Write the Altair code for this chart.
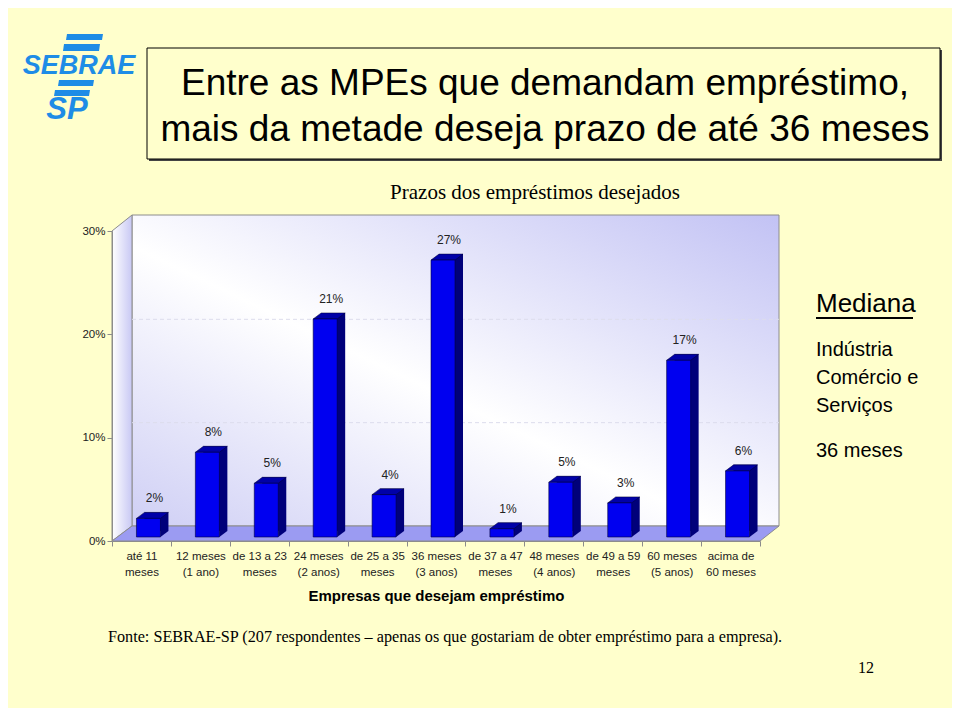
import altair as alt
import pandas as pd

# ---- data ----
categories = [
    "até 11|meses", "12 meses|(1 ano)", "de 13 a 23|meses", "24 meses|(2 anos)",
    "de 25 a 35|meses", "36 meses|(3 anos)", "de 37 a 47|meses", "48 meses|(4 anos)",
    "de 49 a 59|meses", "60 meses|(5 anos)", "acima de|60 meses",
]
values = [1.8, 8.2, 5.2, 21.1, 4.1, 26.8, 0.8, 5.3, 3.3, 17.1, 6.4]
y_ticks = [0, 10, 20, 30]
grid_values = [10, 20]

title_lines = ["Entre as MPEs que demandam empréstimo,", "mais da metade deseja prazo de até 36 meses"]
subtitle = "Prazos dos empréstimos desejados"
x_title = "Empresas que desejam empréstimo"
source = "Fonte: SEBRAE-SP (207 respondentes – apenas os que gostariam de obter empréstimo para a empresa)."
side_head = "Mediana"
side_lines = ["Indústria", "Comércio e", "Serviços"]
side_value = "36 meses"
page_no = "12"

df = pd.DataFrame({"cat": categories, "value": values})
df["label"] = [f"{round(v)}%" for v in values]
grid_df = pd.DataFrame({"g": grid_values})

# ---- layout ----
W, H = 648, 310
BG = "#FFFFCC"
FONT = "Liberation Sans"
SERIF = "Liberation Serif"
LOGO = "#1E8CE6"
one = alt.Data(values=[{}])

xs = alt.Scale(domain=categories, paddingInner=0, paddingOuter=0)
ys = alt.Scale(domain=[0, 30], nice=False)
X = alt.X("cat:N", sort=None, scale=xs, title=x_title,
          axis=alt.Axis(labelExpr="split(datum.label, '|')", labelAngle=0, tickBand="extent",
                        tickSize=5, labelPadding=4, labelLineHeight=16, labelFontSize=11.5,
                        titleFontSize=15, titleFontWeight="bold", titlePadding=11, zindex=1))
Y = alt.Y("value:Q", scale=ys, title=None,
          axis=alt.Axis(values=y_ticks, labelExpr="datum.value + '%'", tickSize=5, labelPadding=2,
                        grid=False, labelFontSize=11.5, zindex=1))

def poly(path, x, y, fill, stroke=None, sw=0):
    kw = dict(shape=path, size=4, filled=True, opacity=1, fill=fill, strokeWidth=sw)
    if stroke:
        kw["stroke"] = stroke
    return alt.Chart(one).mark_point(**kw).encode(x=alt.value(x), y=alt.value(y))

wall_grad = alt.Gradient(gradient="linear", x1=0, y1=1, x2=1, y2=0, stops=[
    alt.GradientStop(color="#CFCFF5", offset=0),
    alt.GradientStop(color="#FFFFFF", offset=0.45),
    alt.GradientStop(color="#C2C2F4", offset=1)])
side_grad = alt.Gradient(gradient="linear", x1=0, y1=0, x2=1, y2=0, stops=[
    alt.GradientStop(color="#FFFFFF", offset=0),
    alt.GradientStop(color="#C8C8F4", offset=1)])

back_wall = alt.Chart(one).mark_rect(fill=wall_grad, stroke="#8C8C8C", strokeWidth=1).encode(
    x=alt.value(20), x2=alt.value(667), y=alt.value(-16), y2=alt.value(295))
side_wall = poly("M0,0 L20,-16 L20,295 L0,310 Z", 0, 0, side_grad, "#8C8C8C", 1)
floor = poly("M0,0 L20,-15 L667,-15 L648,0 Z", 0, 310, "#9B9BF2", "#8C8C8C", 1)

grid = alt.Chart(grid_df).mark_rule(color="#DCDCEC", strokeDash=[4, 3], strokeWidth=1, yOffset=-15).encode(
    y=alt.Y("g:Q", scale=ys), x=alt.value(20), x2=alt.value(667))

base = alt.Chart(df)
bar_back = base.mark_bar(size=24, color="#00007A", xOffset=15, yOffset=-10, y2Offset=-10).encode(x=X, y=Y)
bar_top = base.mark_point(shape="M-5,-4 L19,-4 L27,-10 L3,-10 Z", size=4, filled=True, opacity=1,
                          fill="#0000A8", stroke="#000030", strokeWidth=0.5).encode(x=X, y=Y)
bar_foot = base.mark_point(shape="M19,-10 L19,-4 L27,-10 Z", size=4, filled=True, opacity=1,
                           fill="#00007A", strokeWidth=0).encode(x=X, y=alt.value(310))
bar_front = base.mark_bar(size=24, color="#0000F0", stroke="#000040", strokeWidth=0.6,
                          xOffset=7, yOffset=-4, y2Offset=-4).encode(x=X, y=Y)
bar_text = base.mark_text(font=FONT, fontSize=12, color="#222222", dx=13, dy=-24, baseline="middle").encode(
    x=X, y=Y, text="label:N")

def txt(text, x, y, size, font=FONT, align="center", baseline="middle", color="black", **kw):
    return alt.Chart(one).mark_text(text=text, font=font, fontSize=size, align=align, baseline=baseline,
                                    color=color, **kw).encode(x=alt.value(x), y=alt.value(y))

# title box
box_shadow = alt.Chart(one).mark_rect(fill="#444444").encode(
    x=alt.value(37), x2=alt.value(830), y=alt.value(-181), y2=alt.value(-70))
box = alt.Chart(one).mark_rect(fill=BG, stroke="black", strokeWidth=1).encode(
    x=alt.value(35), x2=alt.value(828), y=alt.value(-183), y2=alt.value(-72))
t1 = txt(title_lines[0], 433, -147, 37)
t2 = txt(title_lines[1], 433, -101, 37)
sub = txt(subtitle, 423, -38, 21, font=SERIF)

# logo
logo_bars = [
    poly("M2,0 L38,0 L37,6 L1,6 Z", -47, -197, LOGO),
    poly("M2,0 L38,0 L37,7 L1,7 Z", -50, -187, LOGO),
    poly("M2,0 L37,0 L36,6 L1,6 Z", -55, -151, LOGO),
    poly("M2,0 L37,0 L36,6 L1,6 Z", -59, -141, LOGO),
]
logo1 = txt("SEBRAE", -33, -165, 27, fontWeight="bold", fontStyle="italic", color=LOGO)
logo2 = txt("SP", -45, -121, 31, fontWeight="bold", fontStyle="italic", color=LOGO)

# side note
med = txt(side_head, 704, 81, 26, align="left", baseline="alphabetic")
med_line = alt.Chart(one).mark_rule(color="black", strokeWidth=2).encode(
    x=alt.value(704), x2=alt.value(801), y=alt.value(87))
sides = txt(side_lines, 704, 121, 20, align="left", lineHeight=28, baseline="top", dy=-12)
side_v = txt(side_value, 704, 220, 20, align="left")

src = txt(source, -4, 406, 16.2, font=SERIF, align="left")
pg = txt(page_no, 754, 437, 16, font=SERIF)

chart = alt.layer(
    box_shadow, box, t1, t2, sub, *logo_bars, logo1, logo2,
    back_wall, side_wall, floor, grid,
    bar_back, bar_top, bar_foot, bar_front, bar_text,
    med, med_line, sides, side_v, src, pg,
).properties(
    width=W, height=H, background=BG,
    autosize=alt.AutoSizeParams(type="none"),
    padding={"left": 104, "top": 223, "right": 192, "bottom": 167},
).configure_view(stroke=None).configure_axis(
    labelFont=FONT, titleFont=FONT, labelColor="#222222", titleColor="black",
    domainColor="#8C8C8C", tickColor="#8C8C8C", grid=False,
)

chart.save("out.html", embed_options={"renderer": "svg", "actions": False})
